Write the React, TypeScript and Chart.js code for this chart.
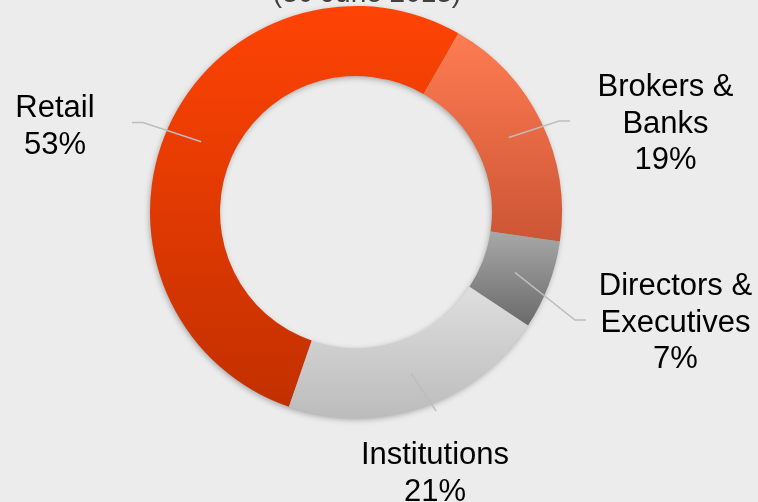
import React, { useEffect, useRef } from "react";
import { Chart, registerables } from "chart.js";

Chart.register(...registerables);

const categories = ["Retail", "Brokers & Banks", "Directors & Executives", "Institutions"];
const labelLines = [["Retail", "53%"], ["Brokers &", "Banks", "19%"], ["Directors &", "Executives", "7%"], ["Institutions", "21%"]];
const shares = [53, 19, 7, 21];
const titleText = "(30 June 2013)";

const topColors = ["#ff4304", "#ff7c52", "#a8a8a8", "#dedede"];
const bottomColors = ["#c23000", "#cc5535", "#6a6a6a", "#bcbcbc"];

const ROTATION = 199;
const FONT = '31px "Liberation Sans", Arial, sans-serif';
const TITLE_FONT = '28px "Liberation Sans", Arial, sans-serif';
const LINE_H = 36.5;

// label layout: text centre x, first baseline y, leader-line outer points
const labelLayout = [
  { x: 55, y: 117, pts: [[132, 122.5], [143, 122.5]] },
  { x: 665.5, y: 96, pts: [[570, 121], [559, 121]] },
  { x: 675.5, y: 295, pts: [[586, 320], [575, 320]] },
  { x: 435, y: 464, pts: [[436, 411]] },
];

function segExtent(i: number, area: any) {
  const total = shares.reduce((a, b) => a + b, 0);
  let cum = 0;
  for (let k = 0; k < i; k++) cum += shares[k];
  const a0 = ((ROTATION + (cum / total) * 360) * Math.PI) / 180;
  const a1 = ((ROTATION + ((cum + shares[i]) / total) * 360) * Math.PI) / 180;
  const cx = (area.left + area.right) / 2;
  const cy = (area.top + area.bottom) / 2;
  const R = Math.min(area.width, area.height) / 2;
  const r = R * 0.66;
  let minY = Infinity, maxY = -Infinity;
  for (let s = 0; s <= 60; s++) {
    const t = a0 + ((a1 - a0) * s) / 60;
    for (const rr of [r, R]) {
      const y = cy - rr * Math.cos(t);
      minY = Math.min(minY, y);
      maxY = Math.max(maxY, y);
    }
  }
  return [minY, maxY];
}

const ringShadow = {
  id: "ringShadow",
  beforeDatasetsDraw(chart: any) {
    const meta = chart.getDatasetMeta(0);
    const arc = meta.data[0];
    if (!arc) return;
    const { x, y, outerRadius, innerRadius } = arc.getProps(["x", "y", "outerRadius", "innerRadius"], true);
    const ctx = chart.ctx;
    ctx.save();
    ctx.shadowColor = "rgba(0,0,0,0.35)";
    ctx.shadowBlur = 6;
    ctx.shadowOffsetX = -1;
    ctx.shadowOffsetY = 2;
    ctx.fillStyle = "#999";
    ctx.beginPath();
    ctx.arc(x, y, outerRadius - 1, 0, Math.PI * 2);
    ctx.arc(x, y, innerRadius + 1, 0, Math.PI * 2, true);
    ctx.fill();
    ctx.restore();
  },
};

const labelsPlugin = {
  id: "labelsPlugin",
  afterDraw(chart: any) {
    const ctx = chart.ctx;
    const meta = chart.getDatasetMeta(0);
    ctx.save();
    // title, mostly clipped at top
    ctx.font = TITLE_FONT;
    ctx.fillStyle = "#404040";
    ctx.textAlign = "center";
    ctx.textBaseline = "alphabetic";
    ctx.fillText(titleText, 367, 2);

    meta.data.forEach((arc: any, i: number) => {
      const p = arc.getProps(["x", "y", "startAngle", "endAngle", "innerRadius", "outerRadius"], true);
      const mid = (p.startAngle + p.endAngle) / 2;
      const rm = (p.innerRadius + p.outerRadius) / 2 - 1;
      const sx = p.x + Math.cos(mid) * rm;
      const sy = p.y + Math.sin(mid) * rm;
      const L = labelLayout[i];
      ctx.strokeStyle = "#bdbdbd";
      ctx.lineWidth = 1.5;
      ctx.beginPath();
      ctx.moveTo(L.pts[0][0], L.pts[0][1]);
      for (let k = 1; k < L.pts.length; k++) ctx.lineTo(L.pts[k][0], L.pts[k][1]);
      ctx.lineTo(sx, sy);
      ctx.stroke();

      ctx.fillStyle = "#000";
      ctx.font = FONT;
      ctx.textAlign = "center";
      labelLines[i].forEach((t, j) => ctx.fillText(t, L.x, L.y + j * LINE_H));
    });
    ctx.restore();
  },
};

export default function App() {
  const ref = useRef<HTMLCanvasElement | null>(null);
  useEffect(() => {
    document.body.style.margin = "0";
    const canvas = ref.current;
    if (!canvas) return;
    const chart = new Chart(canvas, {
      type: "doughnut",
      data: {
        labels: categories,
        datasets: [
          {
            data: shares,
            borderWidth: 0,
            hoverOffset: 0,
            backgroundColor: (c: any) => {
              const area = c.chart.chartArea;
              const i = c.dataIndex;
              if (!area || i === undefined) return topColors[i ?? 0];
              const [y0, y1] = segExtent(i, area);
              const g = c.chart.ctx.createLinearGradient(0, y0, 0, y1);
              g.addColorStop(0, topColors[i]);
              g.addColorStop(1, bottomColors[i]);
              return g;
            },
          },
        ],
      },
      options: {
        responsive: false,
        animation: false,
        rotation: ROTATION,
        cutout: "66%",
        layout: { padding: { left: 150, right: 196, top: 6, bottom: 84 } },
        plugins: {
          legend: { display: false },
          tooltip: { enabled: false },
          title: { display: false },
        },
      },
      plugins: [ringShadow, labelsPlugin],
    });
    return () => chart.destroy();
  }, []);
  return (
    <div style={{ position: "absolute", left: 0, top: 0, width: 758, height: 502, background: "#ececec" }}>
      <canvas ref={ref} width={758} height={502} style={{ display: "block" }} />
    </div>
  );
}
